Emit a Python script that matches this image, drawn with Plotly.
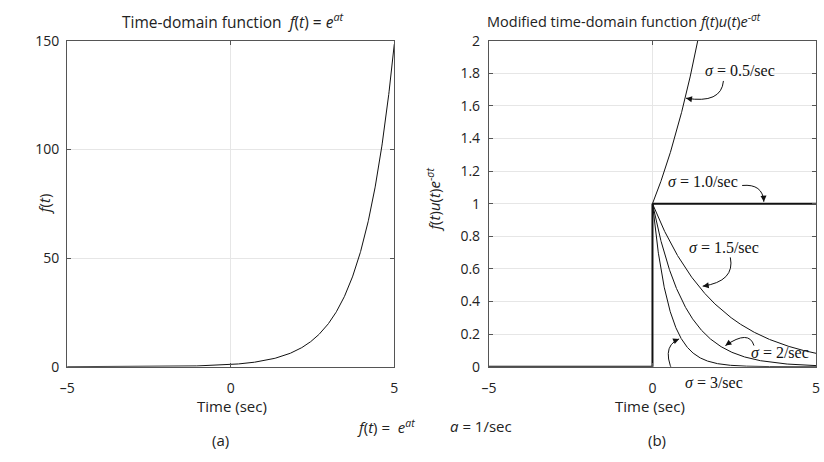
import numpy as np
import plotly.graph_objects as go

# ---- data / parameters ----
a_rate = 1.0                                  # a = 1/sec
sigma_values = [0.5, 1.0, 1.5, 2.0, 3.0]      # sigma in 1/sec
t_min, t_max = -5.0, 5.0
left_yticks = [0, 50, 100, 150]
right_yticks = [0, 0.2, 0.4, 0.6, 0.8, 1.0, 1.2, 1.4, 1.6, 1.8, 2.0]
right_ytick_text = ["0", "0.2", "0.4", "0.6", "0.8", "1", "1.2", "1.4", "1.6", "1.8", "2"]
xticks = [-5, 0, 5]
xtick_text = ["\u20135", "0", "5"]

t = np.linspace(t_min, t_max, 1001)
f_left = np.exp(a_rate * t)
t_pos = np.linspace(0, t_max, 801)

W, H = 824, 462
# plot area geometry (pixels)
LX0, LX1 = 60, 392
RX0, RX1 = 488, 820
YT, YB = 32, 372

fig = go.Figure()

black = "#111111"
fig.add_trace(go.Scatter(x=t, y=f_left, mode="lines", line=dict(color=black, width=1),
                         xaxis="x", yaxis="y", showlegend=False, hoverinfo="skip"))

# step part (t<0 zero, vertical jump at t=0)
fig.add_trace(go.Scatter(x=[t_min, 0, 0], y=[0, 0, 1], mode="lines",
                         line=dict(color=black, width=2), xaxis="x2", yaxis="y2",
                         showlegend=False, hoverinfo="skip"))
for s in sigma_values:
    y = np.exp((a_rate - s) * t_pos)
    mask = y <= 2.05
    fig.add_trace(go.Scatter(x=t_pos[mask], y=y[mask], mode="lines",
                             line=dict(color=black, width=2 if s == 1.0 else 1),
                             xaxis="x2", yaxis="y2", showlegend=False, hoverinfo="skip"))

tickfont = dict(family="Open Sans", size=14, color="#222")
axis_common = dict(showgrid=True, gridcolor="#e6e6e6", gridwidth=1, zeroline=False,
                   showline=True, linecolor="#555555", linewidth=1, mirror="ticks",
                   ticks="inside", ticklen=4, tickcolor="#555555", tickfont=tickfont)

fig.update_layout(
    width=W, height=H, margin=dict(l=0, r=0, t=0, b=0),
    paper_bgcolor="white", plot_bgcolor="white",
    xaxis=dict(domain=[LX0 / W, LX1 / W], range=[t_min, t_max], anchor="y",
               tickvals=xticks, ticktext=xtick_text, ticklabelstandoff=8, **axis_common),
    yaxis=dict(domain=[(H - YB) / H, (H - YT) / H], range=[0, 150], anchor="x",
               tickvals=left_yticks, ticklabelstandoff=4, **axis_common),
    xaxis2=dict(domain=[RX0 / W, RX1 / W], range=[t_min, t_max], anchor="y2",
                tickvals=xticks, ticktext=xtick_text, ticklabelstandoff=8, **axis_common),
    yaxis2=dict(domain=[(H - YB) / H, (H - YT) / H], range=[0, 2], anchor="x2",
                tickvals=right_yticks, ticktext=right_ytick_text, ticklabelstandoff=5,
                **axis_common),
)

sans = dict(family="Open Sans", size=15, color="#222")
title_left_font = dict(family="Open Sans", size=15.5, color="#222")
title_right_font = dict(family="Open Sans", size=14.5, color="#222")
serif = dict(family="Liberation Serif", size=16, color="#111")


def paper(px, py):
    return px / W, (H - py) / H


ann = []


def text_px(px, py, txt, font=sans, angle=0, xanchor="center"):
    xp, yp = paper(px, py)
    ann.append(dict(x=xp, y=yp, xref="paper", yref="paper", text=txt, showarrow=False,
                    font=font, textangle=angle, xanchor=xanchor, yanchor="middle"))


text_px(228, 11, "Time-domain function  <i>f</i>(<i>t</i>) = <i>e</i><sup><i>at</i></sup>", font=title_left_font)
text_px(625, 11, "Modified time-domain function <i>f</i>(<i>t</i>)<i>u</i>(<i>t</i>)<i>e</i><sup>-<i>\u03c3t</i></sup>", font=title_right_font)
text_px(36, 202, "<i>f</i>(<i>t</i>)", angle=-90)
text_px(432, 198, "<i>f</i>(<i>t</i>)<i>u</i>(<i>t</i>)<i>e</i><sup>-<i>\u03c3t</i></sup>", angle=-90)
text_px(227, 413, "Time (sec)")
text_px(651, 413, "Time (sec)")
text_px(216, 448, "(a)")
text_px(659, 448, "(b)")
text_px(352, 434, "<i>f</i>(<i>t</i>) =  <i>e</i><sup><i>at</i></sup>", xanchor="left")
text_px(446, 434, "<i>a</i> = 1/sec", xanchor="left")


def dx(px):
    return (px - RX0) / (RX1 - RX0) * (t_max - t_min) + t_min


def dy(py):
    return (YB - py) / (YB - YT) * 2.0


shapes = []
# (label, text centre px, arrow start px, control px, arrow end px)
labels = [
    ("\u03c3 = 0.5/sec", (743, 63), (726, 74), (724, 98), (688, 92)),
    ("\u03c3 = 1.0/sec", (705, 179), (745, 183), (766, 181), (767, 200)),
    ("\u03c3 = 1.5/sec", (727, 248), (733, 258), (738, 283), (705, 288)),
    ("\u03c3 = 2/sec", (783, 357), (757, 350), (752, 333), (728, 350)),
    ("\u03c3 = 3/sec", (716, 388), (679, 386), (660, 352), (681, 343)),
]
for txt, tc, st, ct, en in labels:
    html = "<i>\u03c3</i>" + txt[1:]
    text_px(tc[0], tc[1], html, font=serif)
    shapes.append(dict(type="path", xref="x2", yref="y2",
                       path=f"M {dx(st[0])},{dy(st[1])} Q {dx(ct[0])},{dy(ct[1])} {dx(en[0])},{dy(en[1])}",
                       line=dict(color=black, width=1)))
    vx, vy = ct[0] - en[0], ct[1] - en[1]
    n = (vx ** 2 + vy ** 2) ** 0.5
    ann.append(dict(x=dx(en[0]), y=dy(en[1]), xref="x2", yref="y2", text="",
                    showarrow=True, ax=vx / n * 7, ay=vy / n * 7, arrowhead=2,
                    arrowsize=1.2, arrowwidth=1, arrowcolor=black, standoff=0))

fig.update_layout(annotations=ann, shapes=shapes)
fig.write_html("out.html")
